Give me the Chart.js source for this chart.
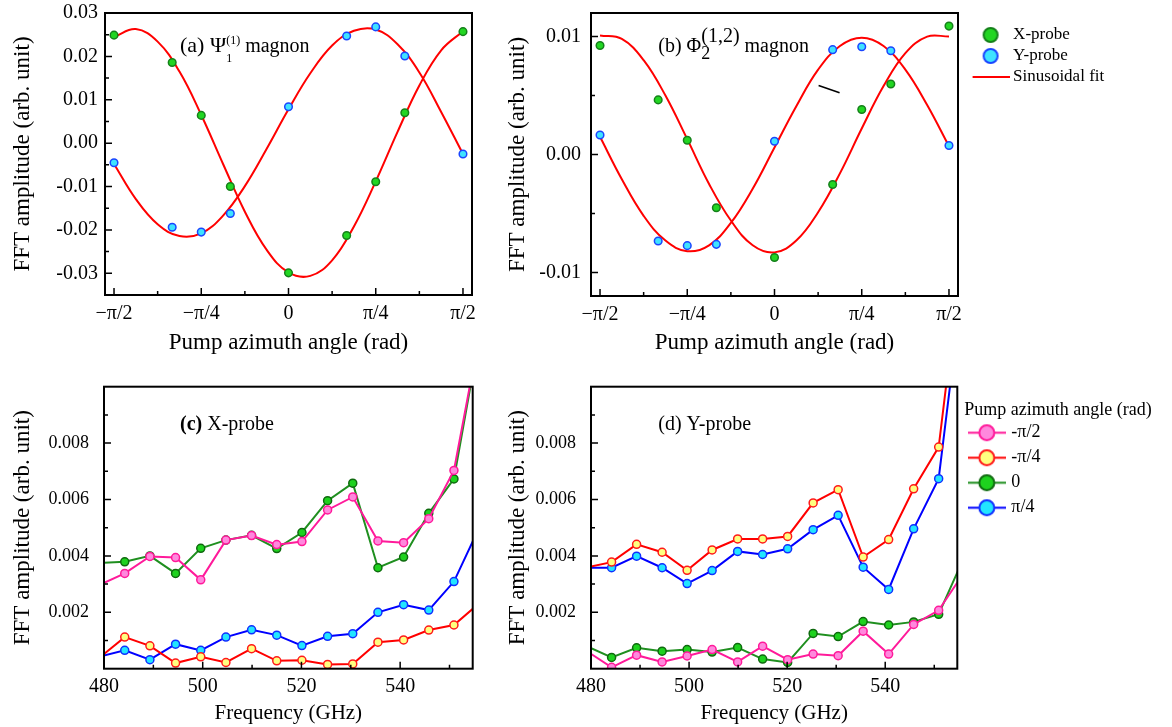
<!DOCTYPE html>
<html>
<head>
<meta charset="utf-8">
<title>Magnon FFT amplitude</title>
<script src="https://cdn.jsdelivr.net/npm/chart.js@4.4.1/dist/chart.umd.min.js"></script>
<style>
  html, body { margin: 0; padding: 0; background: #fff; }
  #page { position: relative; width: 1172px; height: 727px; overflow: hidden; background: #fff; }
  .panel { position: absolute; }
  .panel canvas { display: block; }
</style>
</head>
<body>
<div id="page">
  <div class="panel" style="left:0;top:0"><canvas id="chartPsi" width="490" height="365"></canvas></div>
  <div class="panel" style="left:496px;top:0"><canvas id="chartPhi" width="676" height="365"></canvas></div>
  <div class="panel" style="left:0;top:375px"><canvas id="chartXProbe" width="490" height="352"></canvas></div>
  <div class="panel" style="left:496px;top:375px"><canvas id="chartYProbe" width="676" height="352"></canvas></div>
</div>
<script>
// ---- data ----
const angleTicks = [-1.5708, -0.7854, 0, 0.7854, 1.5708];
const angleTickLabels = ['\u2212\u03c0/2', '\u2212\u03c0/4', '0', '\u03c0/4', '\u03c0/2'];
const angleMinorTicks = [-1.1781, -0.3927, 0.3927, 1.1781];

// pump angles of the measured points: -pi/2, -pi/3, -pi/4, -pi/6, 0, pi/6, pi/4, pi/3, pi/2
const probeAngles = [-1.5708, -1.0472, -0.7854, -0.5236, 0, 0.5236, 0.7854, 1.0472, 1.5708];
const psiXProbe = [0.0249, 0.0186, 0.0064, -0.0100, -0.0299, -0.0213, -0.0089, 0.0070, 0.0257];
const psiYProbe = [-0.0045, -0.0194, -0.0205, -0.0162, 0.0084, 0.0247, 0.0268, 0.0201, -0.0025];
const phiXProbe = [0.00925, 0.00463, 0.00121, -0.00451, -0.00874, -0.00254, 0.00381, 0.00598, 0.01089];
const phiYProbe = [0.00166, -0.00733, -0.00773, -0.00762, 0.00113, 0.00889, 0.00914, 0.00880, 0.00076];

// sinusoidal fit curves, sampled every pi/16
const fitAngles = [-1.5708, -1.3744, -1.1781, -0.9817, -0.7854, -0.5890, -0.3927, -0.1963, 0,
                   0.1963, 0.3927, 0.5890, 0.7854, 0.9817, 1.1781, 1.3744, 1.5708];
const psiXFit = [0.0245, 0.0263, 0.0234, 0.0165, 0.0065, -0.0048, -0.0158, -0.0246, -0.0298,
                 -0.0306, -0.0270, -0.0192, -0.0088, 0.0026, 0.0133, 0.0214, 0.0258];
const psiYFit = [-0.0048, -0.0129, -0.0187, -0.0214, -0.0208, -0.0167, -0.0099, -0.0013, 0.0078,
                 0.0161, 0.0225, 0.0259, 0.0262, 0.0228, 0.0163, 0.0072, -0.0025];
const phiXFit = [0.0101, 0.0098, 0.0080, 0.0050, 0.0013, -0.0025, -0.0056, -0.0077, -0.0083,
                 -0.0073, -0.0049, -0.0016, 0.0022, 0.0058, 0.0086, 0.0100, 0.0100];
const phiYFit = [0.0015, -0.0021, -0.0052, -0.0073, -0.0082, -0.0077, -0.0058, -0.0029, 0.0006,
                 0.0041, 0.0072, 0.0092, 0.0099, 0.0092, 0.0072, 0.0042, 0.0007];
// stray stroke in panel (b)
const strayAngles = [0.397, 0.586];
const strayValues = [0.00585, 0.00523];

const freqTicks = [480, 500, 520, 540];
const freqMinorTicks = [490, 510, 530, 550];
const freqGHz = [479.1, 484.2, 489.3, 494.5, 499.6, 504.7, 509.9, 515.0, 520.1, 525.3,
                 530.4, 535.5, 540.7, 545.8, 550.9, 556.1];
const pumpLabels = ['-\u03c0/2', '-\u03c0/4', '0', '\u03c0/4'];

const xProbeSeries = [
  [0.00297, 0.00338, 0.00398, 0.00394, 0.00315, 0.00456, 0.00472, 0.00440, 0.00451, 0.00563, 0.00609, 0.00453, 0.00447, 0.00532, 0.00703, 0.01186],
  [0.00039, 0.00112, 0.00081, 0.00020, 0.00042, 0.00022, 0.00071, 0.00028, 0.00030, 0.00015, 0.00017, 0.00094, 0.00102, 0.00137, 0.00155, 0.00233],
  [0.00375, 0.00379, 0.00400, 0.00338, 0.00427, 0.00456, 0.00473, 0.00426, 0.00483, 0.00596, 0.00658, 0.00358, 0.00396, 0.00551, 0.00673, 0.01183],
  [0.00043, 0.00065, 0.00032, 0.00087, 0.00065, 0.00112, 0.00138, 0.00119, 0.00082, 0.00115, 0.00124, 0.00200, 0.00227, 0.00208, 0.00309, 0.00503]
];
const yProbeSeries = [
  [0.00063, 0.00005, 0.00048, 0.00024, 0.00045, 0.00068, 0.00024, 0.00080, 0.00032, 0.00052, 0.00046, 0.00133, 0.00052, 0.00157, 0.00207, 0.00342],
  [0.00359, 0.00378, 0.00441, 0.00413, 0.00349, 0.00421, 0.00460, 0.00460, 0.00469, 0.00588, 0.00635, 0.00396, 0.00458, 0.00638, 0.00786, 0.0153],
  [0.00080, 0.00040, 0.00074, 0.00062, 0.00068, 0.00059, 0.00075, 0.00034, 0.00022, 0.00125, 0.00114, 0.00167, 0.00155, 0.00166, 0.00193, 0.00396],
  [0.00358, 0.00358, 0.00399, 0.00358, 0.00302, 0.00348, 0.00416, 0.00405, 0.00425, 0.00493, 0.00544, 0.00360, 0.00281, 0.00496, 0.00674, 0.0141]
];

// ---- styling ----
const serif = "'Liberation Serif', 'Times New Roman', serif";
Chart.defaults.font.family = serif;
Chart.defaults.color = '#000';

const xProbeFill = '#22d622', xProbeEdge = '#15801a';
const yProbeFill = '#3fe3ff', yProbeEdge = '#1a45ff';
const pumpLine = ['#ff1a9a', '#ff0000', '#1f8f1f', '#0000ff'];
const pumpFill = ['#ff88dd', '#ffff80', '#1ed21e', '#22e6ff'];
const pumpEdge = ['#ff1a9a', '#ff1a1a', '#0f6a0f', '#1030ff'];
const freqMin = 480, freqMax = 554.7;

function xyPoints(xs, ys) {
  return xs.map((x, i) => ({x: x, y: ys[i]}));
}

function markerIcon(lineColor, fill, edge, radius, width) {
  const c = document.createElement('canvas');
  c.width = width;
  c.height = Math.ceil(2 * radius + 6);
  const g = c.getContext('2d');
  const cy = c.height / 2;
  if (lineColor) {
    g.strokeStyle = lineColor; g.lineWidth = 2;
    g.beginPath(); g.moveTo(0, cy); g.lineTo(width, cy); g.stroke();
  }
  if (fill) {
    g.beginPath(); g.arc(width / 2, cy, radius, 0, Math.PI * 2);
    g.fillStyle = fill; g.fill();
    g.lineWidth = 2; g.strokeStyle = edge; g.stroke();
  }
  return c;
}

// closed box with inward tick marks
const framePlugin = {
  id: 'frame',
  afterDraw(chart, args, opts) {
    const {ctx, chartArea: a, scales} = chart;
    ctx.save();
    ctx.strokeStyle = '#000';
    ctx.lineWidth = 1.5;
    ctx.beginPath();
    const xt = (vals, len) => vals.forEach(v => {
      const p = scales.x.getPixelForValue(v);
      ctx.moveTo(p, a.bottom); ctx.lineTo(p, a.bottom - len);
    });
    const yt = (vals, len) => vals.forEach(v => {
      const p = scales.y.getPixelForValue(v);
      ctx.moveTo(a.left, p); ctx.lineTo(a.left + len, p);
    });
    xt(opts.xMajor, 7); xt(opts.xMinor, 4);
    yt(opts.yMajor, 7); yt(opts.yMinor, 4);
    ctx.stroke();
    ctx.lineWidth = 2;
    ctx.strokeRect(a.left, a.top, a.right - a.left, a.bottom - a.top);
    ctx.restore();
  }
};

// panel caption with sub/superscripts
const panelTextPlugin = {
  id: 'panelText',
  afterDraw(chart, args, opts) {
    const ctx = chart.ctx;
    ctx.save();
    ctx.fillStyle = '#000';
    ctx.textAlign = 'left';
    ctx.textBaseline = 'alphabetic';
    let x = opts.x, lastX = opts.x;
    opts.runs.forEach(r => {
      ctx.font = (r.bold ? 'bold ' : '') + r.size + 'px ' + serif;
      const startX = r.stack ? lastX : x;
      ctx.fillText(r.text, startX, opts.y - (r.rise || 0));
      const end = startX + ctx.measureText(r.text).width;
      x = r.stack ? Math.max(x, end) : end;
      lastX = startX;
    });
    ctx.restore();
  }
};

// move the legend box to a fixed spot without touching the plot area
const legendSpotPlugin = {
  id: 'legendSpot',
  afterLayout(chart, args, opts) {
    const lg = chart.legend;
    if (!lg || opts.x === undefined) return;
    const dy = opts.y - lg.top;
    lg.left = opts.x;
    lg.width = opts.w;
    lg.right = opts.x + opts.w;
    lg.top += dy; lg.bottom += dy;
  }
};

function axes(cfg) {
  return {
    x: {
      type: 'linear', min: cfg.xMin, max: cfg.xMax,
      grid: {display: false, drawTicks: false}, border: {display: false},
      afterBuildTicks: s => { s.ticks = cfg.xTicks.map(v => ({value: v})); },
      afterFit: s => { s.height = cfg.xHeight; s.paddingLeft = 0; s.paddingRight = 0; },
      ticks: {autoSkip: false, maxRotation: 0, padding: cfg.xPad, font: {size: 20}, color: '#000', callback: cfg.xLabel},
      title: {display: true, text: cfg.xTitle, color: '#000', font: {size: cfg.xTitleSize}, padding: {top: 0, bottom: cfg.xTitlePad}}
    },
    y: {
      type: 'linear', min: cfg.yMin, max: cfg.yMax,
      grid: {display: false, drawTicks: false}, border: {display: false},
      afterBuildTicks: s => { s.ticks = cfg.yTicks.map(v => ({value: v})); },
      afterFit: s => { s.width = cfg.yWidth; s.paddingTop = 0; s.paddingBottom = 0; },
      ticks: {padding: cfg.yPad, font: {size: cfg.yFont}, color: '#000', callback: v => v.toFixed(cfg.yDigits)},
      title: {display: true, text: 'FFT amplitude (arb. unit)', color: '#000', font: {size: 23}, padding: {top: cfg.yTitlePad, bottom: 0}}
    }
  };
}

function probeSets(xs, xVals, yVals, xFit, yFit) {
  return [
    {label: 'X-probe', data: xyPoints(xs, xVals), pointRadius: 3.8, pointBorderWidth: 1.5,
     backgroundColor: xProbeFill, borderColor: xProbeEdge, legendIcon: markerIcon(null, xProbeFill, xProbeEdge, 7, 20)},
    {label: 'Y-probe', data: xyPoints(xs, yVals), pointRadius: 3.8, pointBorderWidth: 1.5,
     backgroundColor: yProbeFill, borderColor: yProbeEdge, legendIcon: markerIcon(null, yProbeFill, yProbeEdge, 7, 20)},
    {label: 'Sinusoidal fit', data: xyPoints(fitAngles, xFit), showLine: true, pointRadius: 0,
     borderColor: '#ff0000', borderWidth: 2, tension: 0.4, legendIcon: markerIcon('#ff0000', null, null, 2, 38)},
    {label: '', data: xyPoints(fitAngles, yFit), showLine: true, pointRadius: 0,
     borderColor: '#ff0000', borderWidth: 2, tension: 0.4}
  ];
}

function pumpSets(series) {
  return series.map((vals, i) => ({
    label: pumpLabels[i],
    data: xyPoints(freqGHz, vals),
    showLine: true,
    borderColor: pumpLine[i],
    borderWidth: 2,
    pointBackgroundColor: pumpFill[i],
    pointBorderColor: pumpEdge[i],
    pointBorderWidth: 1.5,
    pointRadius: ctx => (ctx.raw && ctx.raw.x >= freqMin && ctx.raw.x <= freqMax) ? 4 : 0,
    legendIcon: markerIcon(pumpLine[i], pumpFill[i], pumpEdge[i], 7.5, 38)
  }));
}

const legendItems = chart => chart.data.datasets
  .filter(ds => ds.label)
  .map(ds => ({text: ds.label, pointStyle: ds.legendIcon, fontColor: '#000', lineWidth: 0, hidden: false}));

const angleAxes = {
  xMin: -1.652, xMax: 1.652, xTicks: angleTicks, xHeight: 70, xPad: 7,
  xLabel: (v, i) => angleTickLabels[i], xTitle: 'Pump azimuth angle (rad)', xTitleSize: 23, xTitlePad: 8
};
const freqAxes = {
  xMin: freqMin, xMax: freqMax, xTicks: freqTicks, xHeight: 58.3, xPad: 6,
  xLabel: v => String(v), xTitle: 'Frequency (GHz)', xTitleSize: 21, xTitlePad: 1,
  yMin: 0, yMax: 0.010, yTicks: [0.002, 0.004, 0.006, 0.008], yFont: 18, yDigits: 3, yPad: 15
};

// (a) Psi magnon
new Chart(document.getElementById('chartPsi'), {
  type: 'scatter',
  data: {datasets: probeSets(probeAngles, psiXProbe, psiYProbe, psiXFit, psiYFit)},
  options: {
    responsive: false, animation: false,
    layout: {autoPadding: false, padding: {left: 0, top: 13, right: 18, bottom: 0}},
    plugins: {
      legend: {display: false}, tooltip: {enabled: false},
      frame: {xMajor: angleTicks, xMinor: angleMinorTicks,
              yMajor: [-0.03, -0.02, -0.01, 0, 0.01, 0.02], yMinor: [-0.025, -0.015, -0.005, 0.005, 0.015, 0.025]},
      panelText: {x: 180, y: 52, runs: [
        {text: '(a) \u03a8', size: 22},
        {text: '(1)', size: 12, rise: 8},
        {text: '1', size: 12, rise: -10, stack: true},
        {text: ' magnon', size: 20}
      ]}
    },
    scales: axes(Object.assign({}, angleAxes, {
      yMin: -0.035, yMax: 0.03, yTicks: [-0.03, -0.02, -0.01, 0, 0.01, 0.02, 0.03],
      yWidth: 105, yFont: 20, yDigits: 2, yPad: 7, yTitlePad: 9
    }))
  },
  plugins: [framePlugin, panelTextPlugin]
});

// (b) Phi magnon, with the shared legend
const phiSets = probeSets(probeAngles, phiXProbe, phiYProbe, phiXFit, phiYFit);
phiSets.push({label: '', data: xyPoints(strayAngles, strayValues), showLine: true, pointRadius: 0,
              borderColor: '#000', borderWidth: 1.5});
new Chart(document.getElementById('chartPhi'), {
  type: 'scatter',
  data: {datasets: phiSets},
  options: {
    responsive: false, animation: false,
    layout: {autoPadding: false, padding: {left: 0, top: 13, right: 94, bottom: 0}},
    plugins: {
      tooltip: {enabled: false},
      legend: {
        display: true, position: 'right', align: 'start', maxWidth: 120,
        labels: {usePointStyle: true, pointStyleWidth: 28, padding: 4, color: '#000',
                 font: {size: 17}, generateLabels: legendItems}
      },
      legendSpot: {x: 476.6, y: 22.5, w: 195},
      frame: {xMajor: angleTicks, xMinor: angleMinorTicks, yMajor: [-0.01, 0, 0.01], yMinor: [-0.005, 0.005]},
      panelText: {x: 162.3, y: 52, runs: [
        {text: '(b) \u03a6', size: 20},
        {text: '(1,2)', size: 20, rise: 10.5},
        {text: '2', size: 18, rise: -7.3, stack: true},
        {text: ' magnon', size: 20}
      ]}
    },
    scales: axes(Object.assign({}, angleAxes, {
      xHeight: 69,
      yMin: -0.012, yMax: 0.012, yTicks: [-0.01, 0, 0.01],
      yWidth: 95, yFont: 20, yDigits: 2, yPad: 10, yTitlePad: 8
    }))
  },
  plugins: [framePlugin, panelTextPlugin, legendSpotPlugin]
});

// (c) X-probe spectra
new Chart(document.getElementById('chartXProbe'), {
  type: 'scatter',
  data: {datasets: pumpSets(xProbeSeries)},
  options: {
    responsive: false, animation: false,
    layout: {autoPadding: false, padding: {left: 0, top: 11.7, right: 17.3, bottom: 0}},
    plugins: {
      legend: {display: false}, tooltip: {enabled: false},
      frame: {xMajor: [500, 520, 540], xMinor: freqMinorTicks,
              yMajor: [0.002, 0.004, 0.006, 0.008], yMinor: [0.001, 0.003, 0.005, 0.007, 0.009]},
      panelText: {x: 180, y: 55, runs: [
        {text: '(c)', size: 20, bold: true},
        {text: ' X-probe', size: 20}
      ]}
    },
    scales: axes(Object.assign({}, freqAxes, {yWidth: 104, yTitlePad: 9}))
  },
  plugins: [framePlugin, panelTextPlugin]
});

// (d) Y-probe spectra, with the pump-angle legend
new Chart(document.getElementById('chartYProbe'), {
  type: 'scatter',
  data: {datasets: pumpSets(yProbeSeries)},
  options: {
    responsive: false, animation: false,
    layout: {autoPadding: false, padding: {left: 0, top: 11.7, right: 154.7, bottom: 0}},
    plugins: {
      tooltip: {enabled: false},
      legend: {
        display: true, position: 'right', align: 'start', maxWidth: 60,
        title: {display: true, text: 'Pump azimuth angle (rad)', color: '#000', position: 'start',
                font: {size: 18, lineHeight: 1}, padding: {top: 0, bottom: -3}},
        labels: {usePointStyle: true, pointStyleWidth: 31, padding: 7, color: '#000',
                 font: {size: 18}, generateLabels: legendItems}
      },
      legendSpot: {x: 468.3, y: 26.7, w: 207},
      frame: {xMajor: [500, 520, 540], xMinor: freqMinorTicks,
              yMajor: [0.002, 0.004, 0.006, 0.008], yMinor: [0.001, 0.003, 0.005, 0.007, 0.009]},
      panelText: {x: 162.3, y: 55, runs: [
        {text: '(d) Y-probe', size: 20}
      ]}
    },
    scales: axes(Object.assign({}, freqAxes, {yWidth: 95, yTitlePad: 8}))
  },
  plugins: [framePlugin, panelTextPlugin, legendSpotPlugin]
});
</script>
</body>
</html>
